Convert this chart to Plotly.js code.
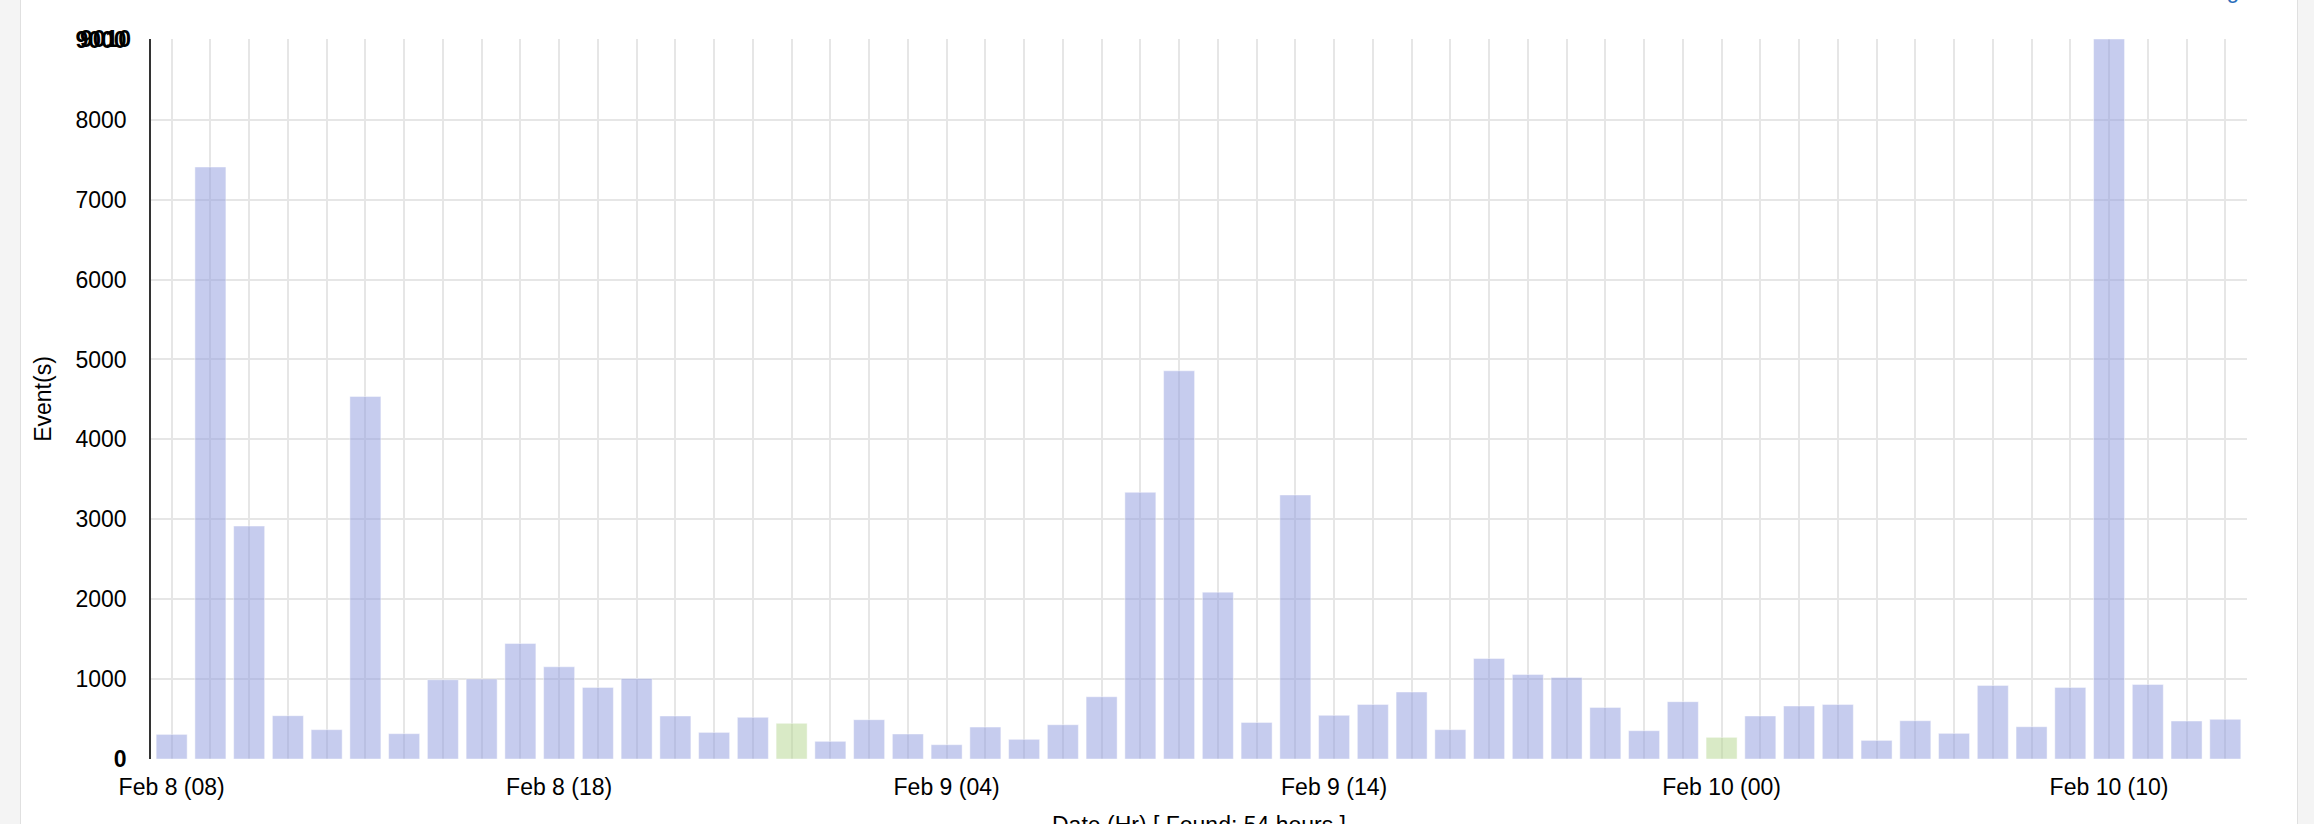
<!DOCTYPE html>
<html>
<head>
<meta charset="utf-8">
<script src="https://cdn.plot.ly/plotly-3.0.1.min.js"></script>
<style>
  html, body { margin:0; padding:0; width:2314px; height:824px; overflow:hidden; background:#f4f4f4; }
  #panel { position:absolute; left:20px; top:0; width:2276px; height:824px; background:#ffffff;
           border-left:1px solid #e0e0e0; border-right:1px solid #e0e0e0; }
  #chart { position:absolute; left:0; top:0; width:2314px; height:824px; }
  #link { position:absolute; left:2201px; top:-23px; font-family:"Liberation Sans", Arial, sans-serif;
          font-size:23px; color:#2a6ebb; white-space:nowrap; }
</style>
</head>
<body>
<div id="panel"></div>
<div id="link">Log</div>
<div id="chart"></div>
<script>
// ---- data ----
const categories = [
  "Feb 8 (08)","Feb 8 (09)","Feb 8 (10)","Feb 8 (11)","Feb 8 (12)","Feb 8 (13)","Feb 8 (14)","Feb 8 (15)",
  "Feb 8 (16)","Feb 8 (17)","Feb 8 (18)","Feb 8 (19)","Feb 8 (20)","Feb 8 (21)","Feb 8 (22)","Feb 8 (23)",
  "Feb 9 (00)","Feb 9 (01)","Feb 9 (02)","Feb 9 (03)","Feb 9 (04)","Feb 9 (05)","Feb 9 (06)","Feb 9 (07)",
  "Feb 9 (08)","Feb 9 (09)","Feb 9 (10)","Feb 9 (11)","Feb 9 (12)","Feb 9 (13)","Feb 9 (14)","Feb 9 (15)",
  "Feb 9 (16)","Feb 9 (17)","Feb 9 (18)","Feb 9 (19)","Feb 9 (20)","Feb 9 (21)","Feb 9 (22)","Feb 9 (23)",
  "Feb 10 (00)","Feb 10 (01)","Feb 10 (02)","Feb 10 (03)","Feb 10 (04)","Feb 10 (05)","Feb 10 (06)","Feb 10 (07)",
  "Feb 10 (08)","Feb 10 (09)","Feb 10 (10)","Feb 10 (11)","Feb 10 (12)","Feb 10 (13)"
];
const events = [
  308, 7408, 2915, 542, 367, 4537, 317, 992,
  1000, 1446, 1154, 896, 1008, 538, 333, 521,
  446, 221, 492, 313, 179, 400, 246, 429,
  779, 3337, 4858, 2088, 458, 3304, 546, 683,
  838, 367, 1258, 1058, 1021, 646, 354, 717,
  271, 538, 663, 683, 233, 479, 321, 921,
  404, 896, 9010, 933, 475, 496
];
const xTickLabels = ["Feb 8 (08)","Feb 8 (18)","Feb 9 (04)","Feb 9 (14)","Feb 10 (00)","Feb 10 (10)"];
const yTickValues = [0,1000,2000,3000,4000,5000,6000,7000,8000,9000];
const yMaxLabel = 9010;
const xTitle = "Date (Hr) [ Found: 54 hours ]";
const yTitle = "Event(s)";

// ---- styling ----
const blue = "rgba(141,153,221,0.5)";
const green = "rgba(179,213,141,0.5)";
const barColors = categories.map(c => c.endsWith("(00)") ? green : blue);
const ticktextX = categories.map(c => xTickLabels.includes(c) ? c : "");
const ticktextY = yTickValues.map((v, i) => (i === 0 || i === yTickValues.length - 1) ? "<b>" + v + "</b>" : String(v));

const font = {family: "Liberation Sans, Arial, sans-serif", size: 23, color: "#000"};

const trace = {
  type: "bar",
  x: categories,
  y: events,
  marker: {color: barColors, line: {color: "rgba(255,255,255,0.45)", width: 1}},
  hoverinfo: "x+y"
};

const layout = {
  width: 2314, height: 824,
  margin: {l: 151, r: 67, t: 39, b: 65, pad: 0},
  paper_bgcolor: "rgba(0,0,0,0)",
  plot_bgcolor: "rgba(0,0,0,0)",
  font: font,
  bargap: 0.2,
  showlegend: false,
  xaxis: {
    type: "category",
    range: [-0.533, 53.56],
    tickmode: "array",
    tickvals: categories,
    ticktext: ticktextX,
    showgrid: true, gridcolor: "#e6e6e6", gridwidth: 1.5,
    ticks: "outside", ticklen: 7, tickcolor: "rgba(0,0,0,0)",
    showline: false, zeroline: false,
    tickfont: font,
    automargin: false
  },
  yaxis: {
    range: [0, 9010],
    tickmode: "array",
    tickvals: yTickValues,
    ticktext: ticktextY,
    showgrid: true, gridcolor: "#e6e6e6", gridwidth: 1.5,
    ticks: "outside", ticklen: 18, tickcolor: "rgba(0,0,0,0)",
    showline: true, linecolor: "#333", linewidth: 1.5,
    zeroline: false,
    tickfont: font,
    automargin: false,
    title: {text: yTitle, font: font, standoff: 17}
  },
  annotations: [{
    xref: "paper", yref: "y", x: 0, y: yMaxLabel,
    xanchor: "right", yanchor: "middle",
    xshift: -18,
    text: "<b>" + yMaxLabel + "</b>",
    showarrow: false, font: font
  }, {
    xref: "paper", yref: "paper", x: 0.5, y: 0,
    xanchor: "center", yanchor: "top",
    yshift: -51,
    text: xTitle,
    showarrow: false, font: font
  }]
};

Plotly.newPlot("chart", [trace], layout, {displayModeBar: false, staticPlot: false});
</script>
</body>
</html>
